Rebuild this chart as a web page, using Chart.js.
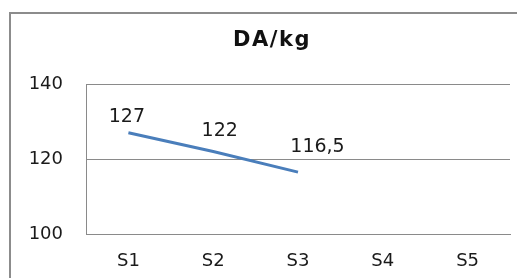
<!DOCTYPE html>
<html>
<head>
<meta charset="utf-8">
<script src="https://cdn.jsdelivr.net/npm/chart.js@4.4.1/dist/chart.umd.min.js"></script>
<style>
  html, body { margin: 0; padding: 0; background: #ffffff; overflow: hidden; }
  #wrap { width: 522px; height: 278px; position: relative; overflow: hidden; }
  canvas { display: block; }
</style>
</head>
<body>
<div id="wrap"><canvas id="c" width="522" height="278"></canvas></div>
<script>
const chartTitle = "DA/kg";
const categories = ["S1", "S2", "S3", "S4", "S5"];
const values = [127, 122, 116.5, null, null];
const yTicks = [100, 120, 140];

// label placement nudges (pixels, relative to the point) — style, not data
const labelNudge = [[-1.5, -16], [6.5, -20.5], [19.5, -25.5]];

const framePlugin = {
  id: 'frameAndTitle',
  beforeDraw(chart) {
    const ctx = chart.ctx;
    ctx.save();
    ctx.fillStyle = '#ffffff';
    ctx.fillRect(0, 0, chart.width, chart.height);
    ctx.fillStyle = '#8c8c8c';
    ctx.fillRect(9, 12, 2, chart.height - 12);
    ctx.fillRect(9, 12, chart.width - 14, 2);
    ctx.restore();
  },
  afterDraw(chart) {
    const ctx = chart.ctx;
    ctx.save();
    ctx.fillStyle = '#111111';
    ctx.font = 'bold 21px "DejaVu Sans"';
    try { ctx.letterSpacing = '1.5px'; } catch (e) {}
    ctx.textAlign = 'center';
    ctx.textBaseline = 'middle';
    ctx.fillText(chartTitle, 272, 41);
    ctx.restore();
  }
};

const labelPlugin = {
  id: 'pointLabels',
  afterDatasetsDraw(chart) {
    const ctx = chart.ctx;
    const meta = chart.getDatasetMeta(0);
    ctx.save();
    ctx.fillStyle = '#1a1a1a';
    ctx.font = '19px "DejaVu Sans"';
    ctx.textAlign = 'center';
    ctx.textBaseline = 'middle';
    meta.data.forEach((pt, i) => {
      const v = values[i];
      if (v === null || v === undefined) return;
      const n = labelNudge[i] || [0, -18];
      ctx.fillText(String(v).replace('.', ','), pt.x + n[0], pt.y + n[1]);
    });
    ctx.restore();
  }
};

new Chart(document.getElementById('c'), {
  type: 'line',
  data: {
    labels: categories,
    datasets: [{
      data: values,
      borderColor: '#4a7ebb',
      backgroundColor: '#4a7ebb',
      borderWidth: 3,
      pointRadius: 0,
      pointHoverRadius: 0,
      tension: 0,
      spanGaps: false
    }]
  },
  options: {
    responsive: false,
    animation: false,
    events: [],
    layout: { padding: { top: 84, right: 12, left: 0, bottom: 0 } },
    plugins: {
      legend: { display: false },
      title: { display: false },
      tooltip: { enabled: false }
    },
    scales: {
      x: {
        offset: true,
        grid: { display: false, drawTicks: false },
        border: { display: true, color: '#8a8a8a', width: 1 },
        ticks: { color: '#1a1a1a', font: { family: 'DejaVu Sans', size: 18 }, padding: 17 },
        afterFit(s) { s.height = 44; }
      },
      y: {
        min: 100,
        max: 140,
        afterBuildTicks(s) { s.ticks = yTicks.map(v => ({ value: v })); },
        grid: { color: '#8a8a8a', lineWidth: 1, drawTicks: false },
        border: { display: true, color: '#8a8a8a', width: 1 },
        ticks: { color: '#1a1a1a', font: { family: 'DejaVu Sans', size: 18 }, padding: 23 },
        afterFit(s) { s.width = 86; }
      }
    }
  },
  plugins: [framePlugin, labelPlugin]
});
</script>
</body>
</html>
